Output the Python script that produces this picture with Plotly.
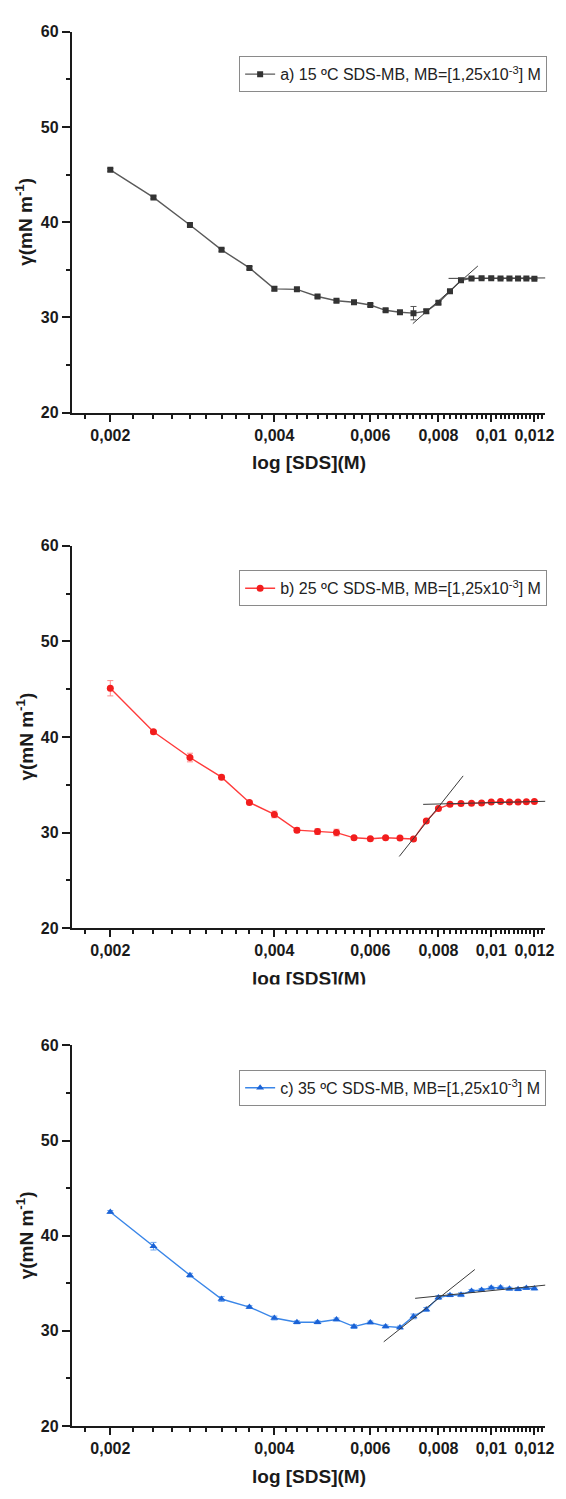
import math
import plotly.graph_objects as go

# SDS concentration (M), shared by the three temperature series
conc = [0.002, 0.0024, 0.0028, 0.0032, 0.0036, 0.004, 0.0044, 0.0048, 0.0052,
        0.0056, 0.006, 0.0064, 0.0068, 0.0072, 0.0076, 0.008, 0.0084, 0.0088,
        0.0092, 0.0096, 0.01, 0.0104, 0.0108, 0.0112, 0.0116, 0.012]

# Surface tension (mN/m) and standard deviation at each temperature
gamma_15 = [45.5, 42.6, 39.7, 37.1, 35.2, 33.0, 32.95, 32.2, 31.75, 31.6, 31.3,
            30.75, 30.55, 30.45, 30.65, 31.55, 32.75, 33.9, 34.1, 34.12, 34.12,
            34.08, 34.1, 34.1, 34.1, 34.07]
err_15 = [0.15, 0.15, 0.15, 0.15, 0.15, 0.2, 0.15, 0.15, 0.15, 0.15, 0.15, 0.15,
          0.15, 0.7, 0.2, 0.15, 0.15, 0.15, 0.1, 0.1, 0.1, 0.1, 0.1, 0.1, 0.1, 0.1]

gamma_25 = [45.1, 40.55, 37.85, 35.8, 33.15, 31.9, 30.25, 30.1, 30.0, 29.45, 29.35,
            29.45, 29.42, 29.32, 31.22, 32.52, 32.95, 33.04, 33.08, 33.1, 33.2,
            33.24, 33.2, 33.2, 33.22, 33.24]
err_25 = [0.8, 0.15, 0.45, 0.2, 0.15, 0.35, 0.25, 0.3, 0.35, 0.15, 0.1, 0.1, 0.1,
          0.15, 0.15, 0.15, 0.1, 0.1, 0.1, 0.1, 0.1, 0.1, 0.1, 0.1, 0.1, 0.1]

gamma_35 = [42.5, 38.9, 35.85, 33.35, 32.5, 31.35, 30.9, 30.9, 31.2, 30.45, 30.88,
            30.47, 30.35, 31.52, 32.25, 33.5, 33.75, 33.8, 34.2, 34.3, 34.53,
            34.55, 34.43, 34.38, 34.5, 34.45]
err_35 = [0.15, 0.4, 0.2, 0.25, 0.15, 0.2, 0.15, 0.15, 0.15, 0.2, 0.15, 0.15, 0.15,
          0.25, 0.2, 0.2, 0.15, 0.2, 0.15, 0.15, 0.15, 0.15, 0.15, 0.15, 0.15, 0.15]

# Linear fits used to locate the CMC (end points in data units)
fit15_pre_x, fit15_pre_y = [0.00718, 0.00945], [29.35, 35.4]
fit15_post_x, fit15_post_y = [0.00835, 0.0129], [34.1, 34.15]
fit25_pre_x, fit25_pre_y = [0.00678, 0.00888], [27.5, 35.93]
fit25_post_x, fit25_post_y = [0.0075, 0.0132], [32.95, 33.3]
fit35_pre_x, fit35_pre_y = [0.00635, 0.00933], [28.85, 36.45]
fit35_post_x, fit35_post_y = [0.00725, 0.0133], [33.42, 34.95]

series_names = [
    "a) 15 ºC SDS-MB, MB=[1,25x10<sup>-3</sup>] M",
    "b) 25 ºC SDS-MB, MB=[1,25x10<sup>-3</sup>] M",
    "c) 35 ºC SDS-MB, MB=[1,25x10<sup>-3</sup>] M",
]

x_tickvals = [0.002, 0.004, 0.006, 0.008, 0.01, 0.012]
x_ticktext = ["0,002", "0,004", "0,006", "0,008", "0,01", "0,012"]
y_tickvals = [20, 30, 40, 50, 60]
x_minor = [round(0.0016 + 0.0002 * i, 4) for i in range(0, 60)]
x_minor = [v for v in x_minor if v not in x_tickvals]

W, H = 566, 1499
FONT = "Liberation Sans, Arial, sans-serif"

# pixel layout of the three stacked panels
x_left, x_right = 73, 554
panel_px = [(24, 409.3), (544, 930.7), (1049.3, 1434.3)]

styles = [
    dict(line="#5a5a5a", marker="#333333", err="#555555", symbol="square", size=6),
    dict(line="#ff3b3b", marker="#f21d1d", err="#ff8a8a", symbol="circle", size=7),
    dict(line="#3a86e8", marker="#1a62d6", err="#6aa3ee", symbol="triangle-up", size=7),
]
gammas = [gamma_15, gamma_25, gamma_35]
errs = [err_15, err_25, err_35]
fits = [
    [(fit15_pre_x, fit15_pre_y), (fit15_post_x, fit15_post_y)],
    [(fit25_pre_x, fit25_pre_y), (fit25_post_x, fit25_post_y)],
    [(fit35_pre_x, fit35_pre_y), (fit35_post_x, fit35_post_y)],
]

fig = go.Figure()
annotations = []

for i in range(3):
    n = "" if i == 0 else str(i + 1)
    xa, ya = "x" + n, "y" + n
    leg = "legend" + n
    st = styles[i]
    top_px, bot_px = panel_px[i]

    fig.add_trace(go.Scatter(
        x=conc, y=gammas[i], xaxis=xa, yaxis=ya, legend=leg,
        name=series_names[i], mode="lines+markers",
        line=dict(color=st["line"], width=1.4),
        marker=dict(symbol=st["symbol"], size=st["size"], color=st["marker"]),
        error_y=dict(type="data", array=errs[i], color=st["err"], thickness=1, width=3),
    ))
    for fx, fy in fits[i]:
        fig.add_trace(go.Scatter(
            x=fx, y=fy, xaxis=xa, yaxis=ya, mode="lines", showlegend=False,
            line=dict(color="#3a3a3a", width=1), hoverinfo="skip",
        ))

    dom_y = [1 - bot_px / H, 1 - top_px / H]
    fig.update_layout({
        "xaxis" + n: dict(
            type="log", domain=[x_left / W, x_right / W],
            range=[math.log10(0.0017), math.log10(0.01256)], anchor=ya,
            showline=True, linecolor="#1a1a1a", linewidth=2, mirror=False,
            showgrid=False, zeroline=False,
            tickmode="array", tickvals=x_tickvals, ticktext=x_ticktext,
            ticks="outside", ticklen=7, tickwidth=2, tickcolor="#1a1a1a",
            tickfont=dict(family=FONT, size=16, color="#1a1a1a", weight="bold"),
            minor=dict(tickmode="array", tickvals=x_minor, ticks="outside",
                       ticklen=4, tickwidth=1.5, tickcolor="#1a1a1a"),
        ),
        "yaxis" + n: dict(
            domain=dom_y, range=[20, 60], anchor=xa,
            showline=True, linecolor="#1a1a1a", linewidth=2, mirror=False,
            showgrid=False, zeroline=False,
            tickmode="array", tickvals=y_tickvals,
            ticks="outside", ticklen=8, tickwidth=2, tickcolor="#1a1a1a",
            tickfont=dict(family=FONT, size=16, color="#1a1a1a", weight="bold"),
            minor=dict(dtick=5, ticks="outside", ticklen=4, tickwidth=1.5,
                       tickcolor="#1a1a1a"),
        ),
        leg: dict(
            x=243 / W, y=1 - (top_px + 43) / H, xanchor="left", yanchor="middle",
            bgcolor="white", bordercolor="#8a8a8a", borderwidth=1,
            font=dict(family=FONT, size=16, color="#222222"),
            itemwidth=30,
        ),
    })

    # y-axis title
    annotations.append(dict(
        xref="paper", yref="paper", x=25 / W, y=(dom_y[0] + dom_y[1]) / 2,
        text="γ(mN m<sup>-1</sup>)", textangle=-90, showarrow=False,
        xanchor="center", yanchor="middle",
        font=dict(family=FONT, size=19, color="#1a1a1a", weight="bold"),
    ))
    # x-axis title
    annotations.append(dict(
        xref="paper", yref="paper", x=(x_left + x_right) / 2 / W,
        y=1 - (bot_px + 38) / H, text="log [SDS](M)", showarrow=False,
        xanchor="center", yanchor="top",
        font=dict(family=FONT, size=19, color="#1a1a1a", weight="bold"),
    ))
    if i == 1:
        # the middle panel is cropped just below its axis title
        annotations.append(dict(
            xref="paper", yref="paper", x=(x_left + x_right) / 2 / W,
            y=1 - 987 / H, text=" ", showarrow=False, xanchor="center",
            yanchor="top", bgcolor="white", width=220, height=30, borderpad=0,
        ))

fig.update_layout(
    width=W, height=H, margin=dict(l=0, r=0, t=0, b=0),
    paper_bgcolor="white", plot_bgcolor="white",
    annotations=annotations,
)

fig.write_html("out.html")
